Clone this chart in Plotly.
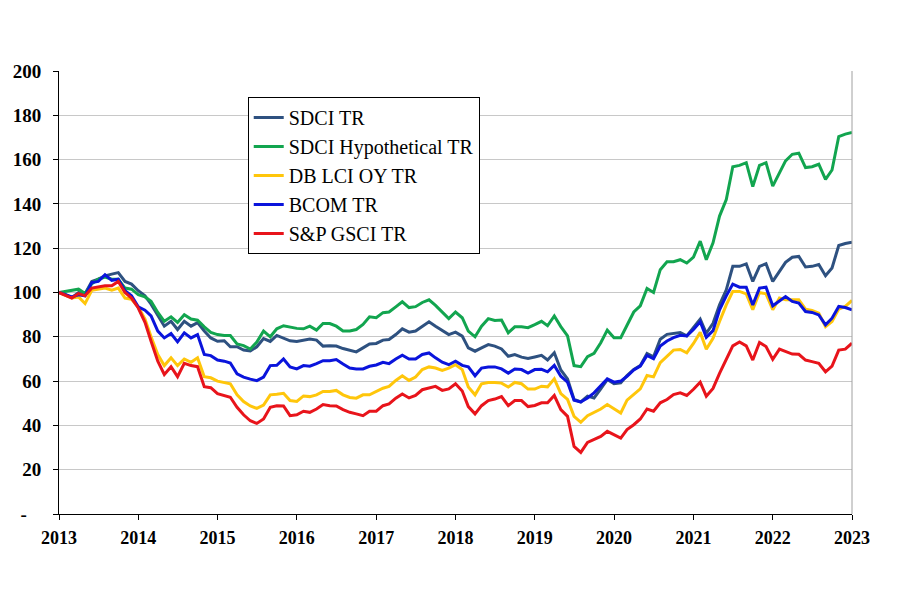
import pandas as pd
import plotly.graph_objects as go

dates = pd.date_range("2013-01-01", periods=121, freq="MS")

series_names = ["SDCI TR", "SDCI Hypothetical TR", "DB LCI OY TR", "BCOM TR", "S&P GSCI TR"]
series_colors = ["#2E5180", "#12A54F", "#FFC60B", "#0A14DC", "#E8141B"]

sdci_tr = [
    100, 99, 97.7, 100, 99.5, 105, 106, 107.5, 108.3, 109, 105, 103.8,
    100.8, 98.5, 94.7, 89.4, 84.8, 87, 83.3, 87, 84.8, 86.4, 82.6, 79.5,
    78, 78.2, 75.5, 75.5, 74, 73.6, 75.5, 79.2, 77.9, 80.6, 79.2, 78.2,
    77.9, 78.5, 79, 78.5, 75.8, 76, 75.8, 74.7, 74, 73.2, 75, 76.8,
    77, 78.5, 78.8, 81, 83.6, 82.1, 82.6, 84.8, 86.8, 84.8, 82.9, 81,
    82.1, 80.3, 75, 73.5, 75, 76.5, 75.8, 74.5, 71.2, 72, 70.8, 70.2,
    70.9, 71.6, 69.5, 72.8, 65, 61, 51.7, 50.6, 53.2, 52.4, 56.5, 60.7,
    58.8, 59.2, 62.5, 65.3, 67, 72.5, 71, 78.9, 81.1, 81.4, 81.9, 80.4,
    84, 88, 81.6, 86.1, 94.4, 101.2, 111.8, 111.8, 112.9, 105, 111.8, 113,
    105, 109.5, 113.6, 115.9, 116.3, 111.5, 111.8, 112.6, 107.6, 111.1, 121.2, 122.1,
    122.7,
]
sdci_hyp_tr = [
    100, 100.5, 101, 101.5, 99.5, 104, 106, 107, 106, 106, 102, 101.5,
    99, 98, 96, 91, 87, 89, 86.5, 90, 88, 87.5, 84.5, 82,
    81, 80.6, 80.6, 76.8, 76, 74.5, 77.6, 82.6, 80, 83.6, 85, 84.4,
    83.8, 83.6, 84.8, 83, 86, 86, 84.8, 82.6, 82.6, 83.3, 85.6, 89,
    88.6, 90.9, 91.2, 93.5, 95.8, 93.2, 93.6, 95.5, 96.7, 94.2, 91.2, 88.2,
    91.2, 88.6, 82.6, 80, 84.8, 88.2, 87.4, 87.6, 81.8, 84.5, 84.5, 84.1,
    85.5, 87, 85, 89.4, 84.6, 80.4, 67, 66.5, 71, 72.5, 77.3, 83,
    79.6, 79.6, 85.2, 91.2, 94, 101.8, 100, 110.3, 113.9, 113.9, 114.8, 113.3,
    116, 123.2, 114.8, 122.4, 134.5, 142, 156.8, 157.4, 158.6, 147.8, 157.4, 158.6,
    148, 154.1, 159.4, 162.4, 162.9, 156.4, 156.8, 157.9, 151.1, 155.3, 170.4, 171.5,
    172.2,
]
db_lci_oy_tr = [
    100, 98.5, 97.5, 98, 95, 101, 101.5, 102, 101, 102, 97.5, 97,
    93.5, 88, 80, 72, 67, 70.5, 67, 70, 68.5, 70.5, 62, 61.5,
    60, 59.5, 58.8, 53.8, 50.8, 48.8, 47.7, 49.2, 53.8, 54.1, 54.5, 51.2,
    50.8, 53.3, 53, 53.8, 55.3, 55.3, 55.8, 53.8, 52.6, 52.3, 53.8, 53.8,
    55.3, 56.8, 57.6, 60.3, 62.4, 60.3, 61.8, 65.2, 66.4, 65.9, 64.8, 65.9,
    67.4, 65.2, 57.3, 53.8, 58.8, 59.4, 59.4, 59.1, 57.3, 59.4, 58.8, 56.4,
    56.4, 57.7, 57.4, 61, 54.4, 51.7, 44.1, 41.4, 44.4, 45.9, 47.4, 49.4,
    47.4, 45.6, 51.4, 53.9, 56.5, 62.5, 61.9, 68.3, 71.3, 74, 74.3, 72.8,
    77, 82, 74.4, 79.3, 86.9, 94.4, 100.5, 100.5, 99.4, 92.2, 100, 99.4,
    92.2, 97.5, 96.7, 96.7, 96.7, 92.5, 91.9, 90.7, 84.6, 86.9, 92.5, 93.7,
    96.4,
]
bcom_tr = [
    100, 99, 98, 99, 98.5, 104.5, 105, 108, 105.5, 106, 100.8, 98.5,
    93.5, 92, 89.4, 82.6, 79.5, 81.5, 77.7, 81.8, 79.5, 81, 72, 71.5,
    69.5, 69, 68.2, 63.3, 61.8, 60.9, 60.2, 61.8, 67, 67.1, 70, 66.4,
    65.5, 67, 66.7, 67.9, 69.2, 69.2, 69.7, 67.7, 65.9, 65.5, 65.5, 66.7,
    67.3, 68.5, 67.9, 70, 71.7, 70, 70, 72, 72.7, 70.5, 68.5, 67.4,
    69, 67.1, 66.4, 62.4, 65.9, 66.4, 66.4, 65.5, 63.6, 65.5, 65.2, 63.6,
    65.2, 65.3, 64.2, 67.1, 62.2, 59.5, 51.4, 50.6, 52.4, 54.7, 58, 61,
    59.5, 60, 62.2, 65, 66.8, 71.6, 70.1, 75.8, 78.1, 79.6, 80.7, 80.4,
    83.3, 86.8, 79.8, 82.8, 92.2, 98.5, 103.8, 102.4, 102.4, 94.4, 102, 102.4,
    94, 96, 98.2, 96, 95.2, 91.4, 91, 89.9, 85.4, 88.4, 93.7, 93.2,
    92.2,
]
sp_gsci_tr = [
    100, 98.5, 97.5, 99.5, 98.5, 102, 102.5, 103, 103, 105, 100, 97.5,
    93, 86.5, 78, 69, 63, 66.5, 62, 68, 67, 66.5, 57.5, 57,
    54.3, 53.5, 52.7, 48.2, 44.8, 42.1, 40.9, 42.9, 48.2, 48.9, 48.8, 44.4,
    44.8, 46.4, 45.9, 47.4, 49.4, 48.9, 48.8, 47.1, 45.9, 45.2, 44.4, 46.4,
    46.4, 48.9, 49.7, 52.3, 54.2, 52.4, 53.5, 56.1, 56.8, 57.6, 55.8, 56.5,
    58.8, 55.5, 48.5, 45.2, 48.9, 51.2, 51.9, 53, 48.9, 51.2, 51.2, 48.5,
    49, 50.2, 50.2, 53.5, 47.1, 44.1, 30.5, 27.8, 32.3, 33.8, 35, 37.3,
    35.8, 34.3, 38.1, 40.3, 42.9, 47.4, 46.4, 50.2, 51.7, 53.9, 54.7, 53.5,
    56.3, 59.5, 53.2, 56.7, 63.5, 69.8, 75.9, 77.7, 75.9, 69.5, 77.4, 75.6,
    69.8, 74.4, 73.3, 72.2, 72.1, 69.5, 68.8, 68, 64.2, 66.8, 74, 74.4,
    77.1,
]

year_ticks = [str(y) for y in range(2013, 2024)]
y_tick_vals = [0, 20, 40, 60, 80, 100, 120, 140, 160, 180, 200]
y_tick_text = ["-", "20", "40", "60", "80", "100", "120", "140", "160", "180", "200"]

all_series = [sdci_tr, sdci_hyp_tr, db_lci_oy_tr, bcom_tr, sp_gsci_tr]

fig = go.Figure()
for name, color, vals in zip(series_names, series_colors, all_series):
    fig.add_trace(go.Scatter(
        x=dates, y=vals, mode="lines", name=name,
        line=dict(color=color, width=3),
    ))

font_family = "Liberation Serif, Times New Roman, serif"


def y_label(t):
    # accounting-style dash sits further left than the numbers
    return "<b>-</b>&nbsp;&nbsp;&nbsp;" if t == "-" else f"<b>{t}</b>"


# page body adds an 8px offset, so the figure is sized 892x603
fig.update_layout(
    width=892, height=603,
    paper_bgcolor="white", plot_bgcolor="white",
    margin=dict(l=51, r=48, t=63, b=97),
    showlegend=True,
    legend=dict(
        x=0.238, y=1.0 - (97 - 71) / 443, xanchor="left", yanchor="top",
        bordercolor="black", borderwidth=1, bgcolor="white",
        font=dict(family=font_family, size=20, color="black"),
        tracegroupgap=0, itemwidth=30,
    ),
    font=dict(family=font_family, color="black"),
)

fig.update_xaxes(
    range=[pd.Timestamp("2013-01-01"), pd.Timestamp("2023-01-01")],
    tickvals=[pd.Timestamp(f"{y}-01-01") for y in year_ticks],
    ticktext=[f"<b>{y}</b>" for y in year_ticks],
    tickfont=dict(family=font_family, size=18, color="black"),
    showline=True, linecolor="black", linewidth=1,
    ticks="outside", ticklen=5, tickcolor="black",
    ticklabelstandoff=2, automargin=False,
    showgrid=False, zeroline=False,
)
fig.update_yaxes(
    range=[0, 200],
    tickvals=y_tick_vals,
    ticktext=[y_label(t) for t in y_tick_text],
    tickfont=dict(family=font_family, size=19, color="black"),
    showline=True, linecolor="black", linewidth=1,
    ticks="outside", ticklen=5, tickcolor="black",
    ticklabelstandoff=8, automargin=False,
    showgrid=True, gridcolor="#C8C8C8", gridwidth=1,
    zeroline=False,
)

fig.add_shape(type="line", xref="paper", yref="paper", x0=1, x1=1, y0=0, y1=1,
              line=dict(color="#A0A0A0", width=1))

fig.write_html("out.html")
